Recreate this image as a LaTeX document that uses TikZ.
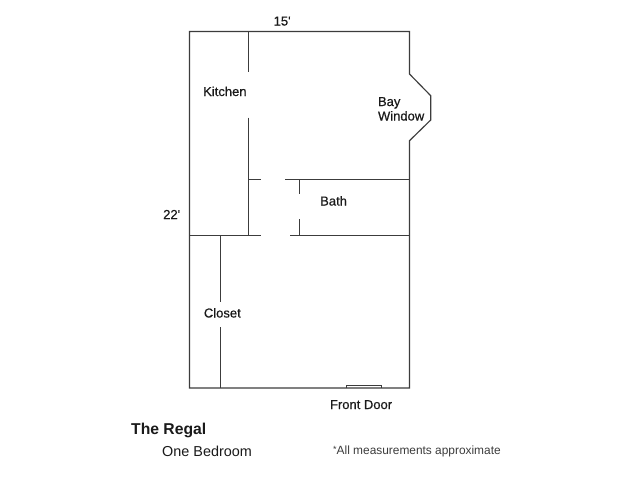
\documentclass[tikz,border=0pt]{standalone}
\usepackage{fontspec}
\setmainfont{Liberation Sans}
\newfontfamily\heavyfont[FakeBold=0.5]{Liberation Sans}
\definecolor{wallc}{HTML}{3C3C3C}
\definecolor{txtc}{HTML}{1A1A1A}
\tikzset{
  wall/.style={draw=wallc,line width=1.15pt},
  label/.style={inner sep=0pt,text=txtc,font=\heavyfont\fontsize{13}{15}\selectfont,anchor=base west},
}
\begin{document}
\begin{tikzpicture}[x=1pt,y=-1pt]
\useasboundingbox (0,0) rectangle (640,480);
\fill[white] (0,0) rectangle (640,480);
% outer shell with bay window
\draw[wall,line join=miter] (409.5,74) -- (409.5,31.5) -- (189.5,31.5) -- (189.5,388) -- (409.5,388) -- (409.5,140.7) -- (430.7,120) -- (430.7,95.7) -- cycle;
% kitchen wall
\draw[wall] (248.5,31.5) -- (248.5,72);
\draw[wall] (248.5,117.5) -- (248.5,235.3);
% bath / hall walls
\draw[wall] (248.5,179.5) -- (261,179.5);
\draw[wall] (285,179.5) -- (409.5,179.5);
\draw[wall] (189.5,235.3) -- (261,235.3);
\draw[wall] (290,235.3) -- (409.5,235.3);
\draw[wall] (299.7,179.5) -- (299.7,194);
\draw[wall] (299.7,219) -- (299.7,235.3);
% closet wall
\draw[wall] (220.7,235.3) -- (220.7,301.7);
\draw[wall] (220.7,327) -- (220.7,388);
% front door
\draw[wall,line width=0.8pt] (346.3,388) -- (346.3,385.3) -- (381.3,385.3) -- (381.3,388);
% labels
\node[label] (dimw) at (273.5,25.5) {15'};
\node[label] (dimh) at (163,219) {22'};
\node[label] (kitchen) at (203,96) {Kitchen};
\node[label] (bay) at (377.8,106) {Bay};
\node[label] (window) at (377.8,120.5) {Window};
\node[label] (bath) at (320,205.5) {Bath};
\node[label] (closet) at (203.7,317.5) {Closet};
\node[label] (door) at (329.8,409) {Front Door};
\node[label,font=\bfseries\fontsize{15.7}{18}\selectfont] (regal) at (131,434.5) {The Regal};
\node[label,font=\fontsize{14.4}{17}\selectfont] (sub) at (162,456.5) {One Bedroom};
\node[label,font=\fontsize{11.9}{14}\selectfont,text=wallc] (note) at (333,454.5) {\raisebox{2.5pt}{\fontsize{9}{10}\selectfont *}All measurements approximate};
\end{tikzpicture}
\end{document}
